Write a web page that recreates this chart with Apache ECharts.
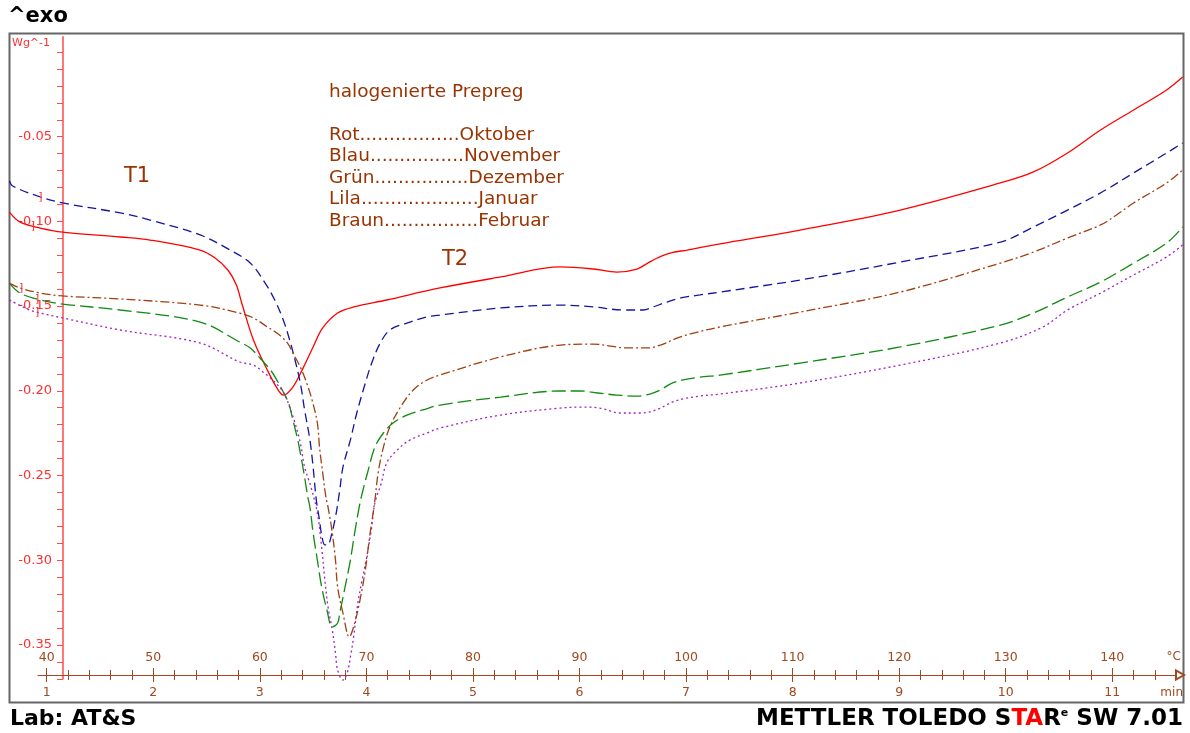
<!DOCTYPE html>
<html>
<head>
<meta charset="utf-8">
<title>DSC – halogenierte Prepreg</title>
<script src="https://cdn.jsdelivr.net/npm/echarts@6/dist/echarts.min.js"></script>
<style>
  html, body { margin: 0; padding: 0; background: #fff; }
  #chart { width: 1190px; height: 733px; }
</style>
</head>
<body>
<div id="chart"></div>
<script>
// DSC heat flow (W/g) against sample temperature (°C), heating rate 10 K/min.
// Each series: [temperature °C, heat flow W/g]

const oktober = [
  [36.5,-0.0945],[37.5,-0.1004],[39.4,-0.1039],[41.5,-0.1063],[46.9,-0.1092],[49.7,-0.1110],
  [54.4,-0.1169],[55.8,-0.1216],[57.0,-0.1287],[57.8,-0.1375],[58.3,-0.1482],[59.4,-0.1700],
  [60.7,-0.1877],[61.6,-0.1983],[62.2,-0.2025],[63.1,-0.1978],[64.1,-0.1860],[65.0,-0.1741],
  [65.9,-0.1629],[67.3,-0.1541],[68.8,-0.1505],[71.9,-0.1464],[76.9,-0.1393],[82.6,-0.1328],
  [88.2,-0.1269],[91.3,-0.1281],[93.5,-0.1299],[95.4,-0.1281],[96.4,-0.1246],[97.3,-0.1216],
  [98.5,-0.1187],[100.1,-0.1169],[103.2,-0.1133],[110.7,-0.1051],[120.1,-0.0933],[129.5,-0.0773],
  [132.6,-0.0708],[135.8,-0.0596],[138.9,-0.0460],[142.0,-0.0342],[145.1,-0.0224],[146.6,-0.0148]
];

const november = [
  [36.5,-0.0762],[36.8,-0.0791],[39.4,-0.0856],[41.5,-0.0891],[46.9,-0.0950],[49.7,-0.0992],
  [54.4,-0.1080],[57.2,-0.1169],[59.1,-0.1246],[60.5,-0.1364],[61.4,-0.1464],[62.2,-0.1582],
  [62.8,-0.1700],[63.3,-0.1818],[63.8,-0.1954],[64.2,-0.2113],[64.7,-0.2290],[65.0,-0.2450],
  [65.3,-0.2645],[65.6,-0.2763],[65.8,-0.2851],[66.1,-0.2910],[66.4,-0.2910],[66.6,-0.2881],
  [67.1,-0.2745],[67.5,-0.2586],[67.8,-0.2450],[68.5,-0.2290],[69.1,-0.2131],[69.9,-0.1954],
  [70.5,-0.1836],[71.3,-0.1718],[72.2,-0.1641],[73.8,-0.1600],[75.7,-0.1564],[76.9,-0.1553],
  [82.6,-0.1511],[88.2,-0.1494],[91.3,-0.1505],[94.1,-0.1523],[96.0,-0.1523],[96.9,-0.1505],
  [98.2,-0.1476],[99.5,-0.1452],[101.3,-0.1434],[103.2,-0.1417],[110.7,-0.1346],[120.1,-0.1240],
  [129.5,-0.1122],[132.6,-0.1033],[135.8,-0.0933],[138.9,-0.0832],[142.0,-0.0714],[145.1,-0.0596],
  [146.6,-0.0537]
];

const dezember = [
  [36.5,-0.1364],[37.5,-0.1423],[39.4,-0.1464],[41.5,-0.1488],[46.9,-0.1523],[54.4,-0.1594],
  [58.1,-0.1712],[59.1,-0.1747],[60.0,-0.1806],[61.0,-0.1877],[61.7,-0.1948],[62.2,-0.2007],
  [62.7,-0.2072],[63.1,-0.2172],[63.5,-0.2273],[63.8,-0.2367],[64.2,-0.2509],[64.5,-0.2627],
  [64.7,-0.2686],[65.0,-0.2839],[65.4,-0.2999],[65.8,-0.3158],[66.3,-0.3294],[66.8,-0.3394],
  [67.3,-0.3371],[67.5,-0.3312],[68.0,-0.3158],[68.5,-0.2999],[68.9,-0.2839],[69.4,-0.2662],
  [69.8,-0.2556],[70.1,-0.2485],[70.8,-0.2332],[71.6,-0.2249],[72.5,-0.2190],[73.8,-0.2143],
  [75.3,-0.2113],[76.9,-0.2084],[82.6,-0.2037],[88.2,-0.2001],[90.1,-0.2001],[91.7,-0.2013],
  [93.5,-0.2025],[95.4,-0.2031],[96.6,-0.2019],[97.6,-0.1995],[98.5,-0.1960],[99.7,-0.1936],
  [101.3,-0.1919],[103.2,-0.1907],[110.7,-0.1836],[120.1,-0.1741],[129.5,-0.1612],[132.6,-0.1541],
  [135.8,-0.1446],[138.9,-0.1358],[142.0,-0.1246],[145.1,-0.1128],[146.6,-0.1033]
];

const januar = [
  [36.5,-0.1464],[38.4,-0.1523],[39.4,-0.1541],[41.5,-0.1570],[46.9,-0.1641],[54.4,-0.1718],
  [58.1,-0.1830],[59.4,-0.1848],[60.3,-0.1889],[61.2,-0.1936],[62.2,-0.2007],[62.8,-0.2096],
  [63.3,-0.2190],[63.8,-0.2308],[64.2,-0.2450],[64.8,-0.2568],[65.4,-0.2721],[65.8,-0.2922],
  [66.1,-0.3117],[66.4,-0.3276],[66.8,-0.3412],[67.1,-0.3548],[67.3,-0.3648],[67.8,-0.3707],
  [68.2,-0.3666],[68.5,-0.3571],[68.8,-0.3453],[69.2,-0.3253],[69.6,-0.3117],[70.1,-0.2957],
  [70.5,-0.2804],[70.8,-0.2662],[71.4,-0.2544],[71.9,-0.2426],[72.9,-0.2349],[74.1,-0.2290],
  [75.7,-0.2249],[76.9,-0.2220],[82.6,-0.2143],[88.2,-0.2102],[90.1,-0.2096],[91.9,-0.2102],
  [93.8,-0.2131],[95.7,-0.2131],[96.6,-0.2125],[97.6,-0.2102],[98.5,-0.2072],[99.7,-0.2048],
  [101.3,-0.2031],[103.2,-0.2019],[110.7,-0.1954],[120.1,-0.1848],[129.5,-0.1718],[133.5,-0.1623],
  [135.8,-0.1523],[138.9,-0.1423],[142.0,-0.1316],[145.1,-0.1210],[146.6,-0.1139]
];

const februar = [
  [36.5,-0.1364],[37.5,-0.1393],[39.4,-0.1423],[41.5,-0.1440],[46.9,-0.1458],[54.4,-0.1494],
  [58.1,-0.1541],[59.4,-0.1570],[60.7,-0.1623],[61.6,-0.1659],[62.6,-0.1718],[63.1,-0.1777],
  [63.8,-0.1860],[64.4,-0.1954],[64.9,-0.2054],[65.4,-0.2190],[65.6,-0.2332],[65.9,-0.2485],
  [66.2,-0.2627],[66.4,-0.2686],[66.8,-0.2839],[67.1,-0.2999],[67.3,-0.3158],[67.8,-0.3312],
  [68.4,-0.3453],[68.9,-0.3371],[69.4,-0.3235],[69.9,-0.3058],[70.3,-0.2863],[70.8,-0.2645],
  [71.1,-0.2485],[71.6,-0.2332],[72.2,-0.2214],[73.2,-0.2096],[74.4,-0.1995],[75.7,-0.1936],
  [76.9,-0.1907],[82.6,-0.1800],[88.2,-0.1730],[91.3,-0.1724],[92.9,-0.1736],[94.5,-0.1747],
  [96.4,-0.1747],[97.6,-0.1730],[99.2,-0.1688],[100.7,-0.1659],[103.2,-0.1623],[110.7,-0.1535],
  [120.1,-0.1417],[129.5,-0.1246],[132.6,-0.1181],[135.8,-0.1098],[138.9,-0.1021],[140.4,-0.0962],
  [142.0,-0.0891],[145.1,-0.0773],[146.6,-0.0697]
];

// Axis ticks and labels
const tempLabels = [40, 50, 60, 70, 80, 90, 100, 110, 120, 130, 140];   // °C
const timeLabels = [1, 2, 3, 4, 5, 6, 7, 8, 9, 10, 11];                  // min
const heatLabels = [-0.35, -0.30, -0.25, -0.20, -0.15, -0.10, -0.05];     // W/g
const tempMinorStep = 2;     // °C between minor ticks
const heatMinorStep = 0.01;  // W/g between minor ticks

// Legend block: colour name, number of leader dots, month
const legendTitle = 'halogenierte Prepreg';
const legendRows = [
  ['Rot', 17, 'Oktober'],
  ['Blau', 16, 'November'],
  ['Grün', 16, 'Dezember'],
  ['Lila', 20, 'Januar'],
  ['Braun', 16, 'Februar']
];

// ---- layout -------------------------------------------------------------
const T_MIN = 36.46, T_MAX = 146.73;   // temperature span of the plot area
const W_MIN = -0.37, W_MAX = 0.009;    // heat-flow span of the plot area
const PLOT = { left: 9, right: 1184, top: 36.75, bottom: 678.8 };
const FRAME = { left: 9.5, top: 33.5, right: 1183.5, bottom: 702.5 };
const AXIS_X0 = 38;                    // where the temperature axis line starts
const AXIS_Y = 675;                    // height of the temperature axis line
const pxPerDeg = (PLOT.right - PLOT.left) / (T_MAX - T_MIN);
const axisT0 = T_MIN + (AXIS_X0 - PLOT.left) / pxPerDeg;
const toMin = t => (t - 30) / 10;      // 10 K/min from 30 °C

const BROWN = '#a0481e';
const TEXT_BROWN = '#993300';
const AXIS_RED = '#ff4a4a';
const FONT = '"DejaVu Sans", "Liberation Sans", sans-serif';

const tempMinor = [];
for (let t = 40; t < T_MAX - 1; t += tempMinorStep) tempMinor.push(t);
const heatMinor = [];
for (let k = Math.round(W_MIN / heatMinorStep); k <= 0; k++) heatMinor.push(+(k * heatMinorStep).toFixed(2));

function valueAt(data, t) {
  for (let i = 1; i < data.length; i++) {
    if (data[i][0] >= t) {
      const [t0, v0] = data[i - 1], [t1, v1] = data[i];
      return v0 + (v1 - v0) * (t - t0) / (t1 - t0);
    }
  }
  return data[data.length - 1][1];
}

function curve(name, data, color, type, markT) {
  return {
    name, type: 'line', data,
    xAxisIndex: 0, yAxisIndex: 0,
    showSymbol: false, clip: false,
    smooth: 0.35,
    lineStyle: { color, width: 1.3, type, cap: 'butt' },
    emphasis: { disabled: true },
    markPoint: {
      symbol: 'circle', symbolSize: 0, animation: false, silent: true,
      label: { show: true, position: 'inside', formatter: ']', color: '#ff2a2a', fontSize: 11, fontFamily: FONT },
      data: [{ coord: [markT, valueAt(data, markT)] }]
    }
  };
}

function txt(x, y, text, font, fill, align) {
  return {
    type: 'text', x, y, silent: true,
    style: { text, font, fill, align: align || 'left', textAlign: align || 'left', verticalAlign: 'middle', textVerticalAlign: 'middle' }
  };
}

const legendGraphics = [txt(329, 92, legendTitle, '18.5px ' + FONT, TEXT_BROWN)];
legendRows.forEach((r, i) => {
  legendGraphics.push(txt(329, 135 + i * 21.5, r[0] + '.'.repeat(r[1]) + r[2], '18.5px ' + FONT, TEXT_BROWN));
});

const chart = echarts.init(document.getElementById('chart'), null, { renderer: 'canvas' });
chart.setOption({
  animation: false,
  backgroundColor: '#ffffff',
  grid: [
    { left: PLOT.left, width: PLOT.right - PLOT.left, top: PLOT.top, height: PLOT.bottom - PLOT.top },
    { left: 63, width: 1, top: PLOT.top, height: PLOT.bottom - PLOT.top },
    { left: AXIS_X0, width: PLOT.right - AXIS_X0, top: AXIS_Y - 5, height: 5 }
  ],
  xAxis: [
    { gridIndex: 0, type: 'value', min: T_MIN, max: T_MAX, show: false },
    { gridIndex: 1, type: 'value', min: 0, max: 1, show: false },
    { // temperature scale, labels above the line
      gridIndex: 2, type: 'value', min: axisT0, max: T_MAX, position: 'bottom',
      axisLine: { show: true, lineStyle: { color: BROWN, width: 1 }, symbol: ['none', 'emptyTriangle'], symbolSize: [9, 8], symbolOffset: [0, -4] },
      axisTick: { show: true, inside: true, length: 7, customValues: tempLabels, lineStyle: { color: BROWN, width: 1 } },
      axisLabel: { show: true, inside: true, margin: 11, customValues: tempLabels, color: BROWN, fontSize: 12.5, fontFamily: FONT },
      splitLine: { show: false }
    },
    { // time scale, labels below the line
      gridIndex: 2, type: 'value', min: toMin(axisT0), max: toMin(T_MAX), position: 'bottom',
      axisLine: { show: false },
      axisTick: { show: true, inside: false, length: 7, customValues: timeLabels, lineStyle: { color: BROWN, width: 1 } },
      axisLabel: { show: true, margin: 11, customValues: timeLabels, color: BROWN, fontSize: 12.5, fontFamily: FONT },
      splitLine: { show: false }
    },
    { // minor ticks above
      gridIndex: 2, type: 'value', min: axisT0, max: T_MAX, position: 'bottom',
      axisLine: { show: false },
      axisTick: { show: true, inside: true, length: 5, customValues: tempMinor, lineStyle: { color: BROWN, width: 1 } },
      axisLabel: { show: false }, splitLine: { show: false }
    },
    { // minor ticks below
      gridIndex: 2, type: 'value', min: axisT0, max: T_MAX, position: 'bottom',
      axisLine: { show: false },
      axisTick: { show: true, inside: false, length: 5, customValues: tempMinor, lineStyle: { color: BROWN, width: 1 } },
      axisLabel: { show: false }, splitLine: { show: false }
    }
  ],
  yAxis: [
    { gridIndex: 0, type: 'value', min: W_MIN, max: W_MAX, show: false },
    { // heat-flow scale
      gridIndex: 1, type: 'value', min: W_MIN, max: W_MAX, position: 'left',
      axisLine: { show: true, lineStyle: { color: AXIS_RED, width: 1.5 } },
      axisTick: { show: true, length: 6, customValues: heatMinor, lineStyle: { color: AXIS_RED, width: 1 } },
      axisLabel: { show: true, margin: 11, customValues: heatLabels, formatter: v => v.toFixed(2), color: '#ff3030', fontSize: 13, fontFamily: FONT },
      splitLine: { show: false }
    },
    { gridIndex: 2, type: 'value', min: 0, max: 1, show: false }
  ],
  series: [
    curve('Oktober', oktober, '#ff0000', 'solid', 38.7),
    curve('November', november, '#1414a0', [9, 5], 39.4),
    curve('Dezember', dezember, '#108a10', [14, 5], 39.1),
    curve('Januar', januar, '#a020c8', [2, 3], 39.1),
    curve('Februar', februar, '#a0400f', [9, 3, 2, 3], 37.6)
  ],
  graphic: [
    {
      type: 'rect', silent: true, z: -10,
      shape: { x: FRAME.left, y: FRAME.top, width: FRAME.right - FRAME.left, height: FRAME.bottom - FRAME.top },
      style: { fill: 'none', stroke: '#666666', lineWidth: 2 }
    },
    txt(8, 17, '^exo', 'bold 21px ' + FONT, '#000000'),
    txt(12, 43, 'Wg^-1', '11px ' + FONT, '#ff3030'),
    txt(124, 177, 'T1', '21px ' + FONT, TEXT_BROWN),
    txt(442, 260, 'T2', '21px ' + FONT, TEXT_BROWN),
    txt(1181, 657, '°C', '12px ' + FONT, BROWN, 'right'),
    txt(1183, 693, 'min', '12px ' + FONT, BROWN, 'right'),
    txt(10, 719, 'Lab: AT&S', 'bold 22px ' + FONT, '#000000'),
    {
      type: 'text', x: 1183, y: 719, silent: true,
      style: {
        text: '{k|METTLER TOLEDO S}{r|TA}{k|R}{e|e}{k| SW 7.01}',
        align: 'right', textAlign: 'right', verticalAlign: 'middle', textVerticalAlign: 'middle',
        rich: {
          k: { font: 'bold 23px ' + FONT, fill: '#000000' },
          r: { font: 'bold 23px ' + FONT, fill: '#ff0000' },
          e: { font: 'bold 11px ' + FONT, fill: '#000000', verticalAlign: 'top' }
        }
      }
    }
  ].concat(legendGraphics)
});
</script>
</body>
</html>
